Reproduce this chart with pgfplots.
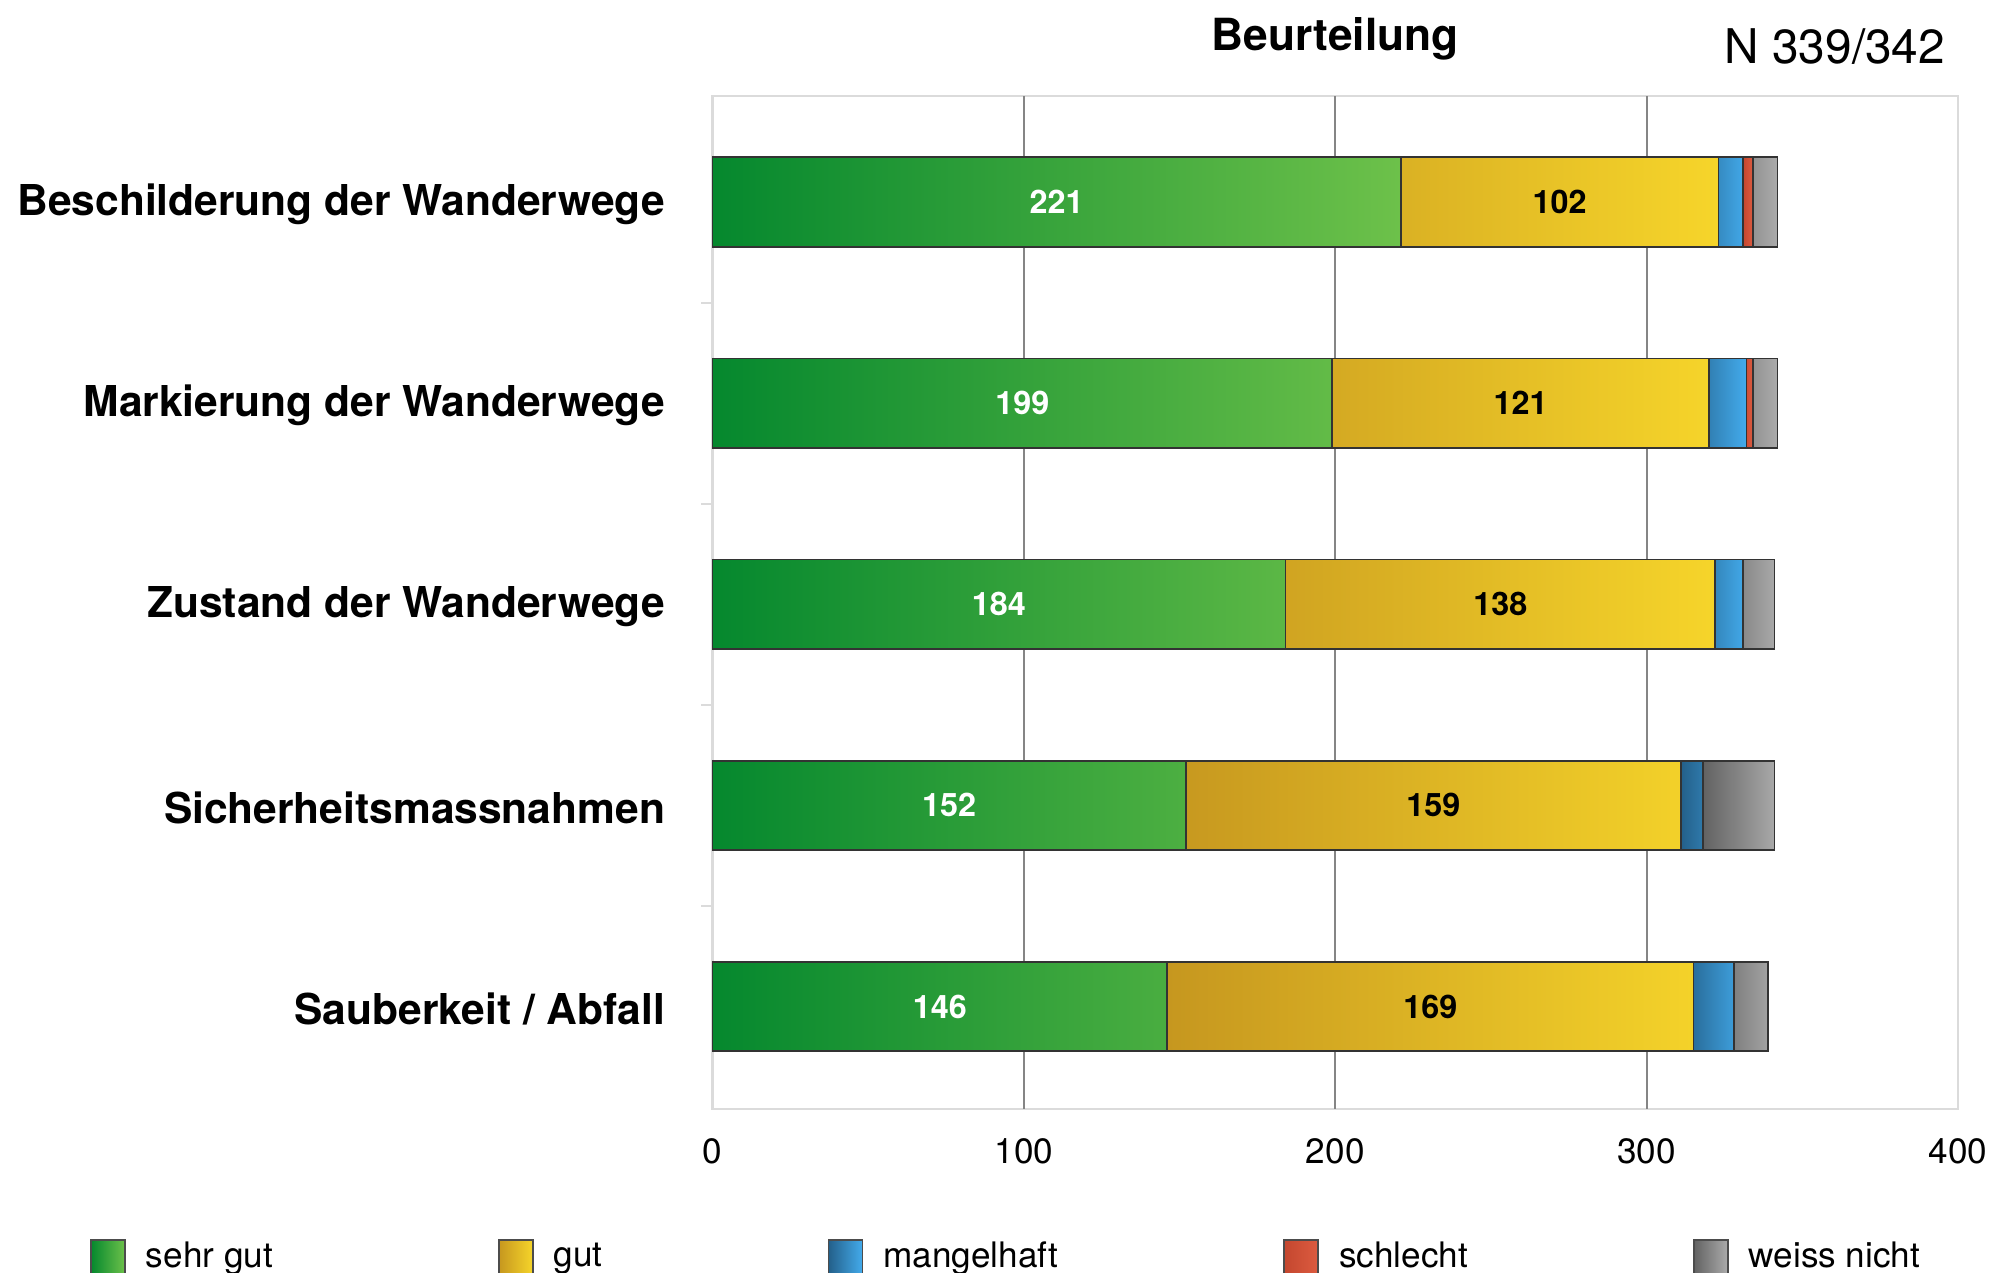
\documentclass[border=0pt]{standalone}
\usepackage{fontspec}
\setmainfont{TeX Gyre Heros}
\usepackage{pgfplots}
\usepackage{pgfplotstable}
\pgfplotsset{compat=1.18}

\definecolor{grL}{HTML}{05882E}
\definecolor{grR}{HTML}{6DC14A}
\definecolor{ylL}{HTML}{C6971F}
\definecolor{ylR}{HTML}{F6D52A}
\definecolor{blL}{HTML}{24608A}
\definecolor{blR}{HTML}{43ABEC}
\definecolor{rdL}{HTML}{C4472F}
\definecolor{rdR}{HTML}{DC5B40}
\definecolor{gyL}{HTML}{626262}
\definecolor{gyR}{HTML}{ABABAB}

% pos: 4 = top row
\pgfplotstableread{
pos g ge m s w
4 221 102 8 3 8
3 199 121 12 2 8
2 184 138 9 0 10
1 152 159 7 0 23
0 146 169 13 0 11
}\beurteilung

\pgfplotsset{
  frame/.style={scale only axis, width=124.58mm, height=101.3mm,
    xmin=0, xmax=400, ymin=-0.509, ymax=4.528},
}

\begin{document}
\begin{tikzpicture}
\useasboundingbox (-71.24mm,-16.41mm) rectangle (129.36mm,110.89mm);
\begin{axis}[
    frame,
    xbar stacked,
    bar width=8.95mm,
    xtick={0,100,...,400},
    extra x ticks={100,200,300},
    extra x tick labels={},
    extra x tick style={grid=major, major grid style={draw=black!48, line width=0.6pt}},
    ytick={0,...,4},
    yticklabels={Sauberkeit / Abfall, Sicherheitsmassnahmen, Zustand der Wanderwege, Markierung der Wanderwege, Beschilderung der Wanderwege},
    minor ytick={0.5,1.5,2.5,3.5},
    major tick length=0pt,
    minor tick length=1.1mm,
    tick align=outside,
    ytick pos=left, xtick pos=bottom,
    minor tick style={draw=black!14, line width=0.6pt},
    axis line style={draw=black!14, line width=0.7pt},
    /pgf/number format/assume math mode=true,
    xticklabel style={font=\fontsize{10}{12}\selectfont, yshift=-1.75mm},
    yticklabel style={font=\bfseries\fontsize{12.1}{14}\selectfont, xshift=-3.5mm, yshift=-0.2mm},
    every axis plot/.append style={draw=black!80, line width=0.5pt},
    legend columns=5,
    legend style={at={(-0.5,-0.1465)}, anchor=west, draw=none, fill=none,
      inner sep=0pt, font=\fontsize{10}{12}\selectfont,
      /tikz/every odd column/.append style={column sep=1.3mm},
      /tikz/every even column/.append style={column sep=21.8mm}},
    legend image code/.code={\draw[#1,draw=black!70] (0mm,-1.7mm) rectangle (3.4mm,1.7mm);},
    clip=false,
  ]
  \addplot[left color=grL, right color=grR] table[x=g, y=pos] {\beurteilung};
  \addlegendentry{sehr gut}
  \addplot[left color=ylL, right color=ylR] table[x=ge, y=pos] {\beurteilung};
  \addlegendentry{gut}
  \addplot[left color=blL, right color=blR] table[x=m, y=pos] {\beurteilung};
  \addlegendentry{mangelhaft}
  \addplot[left color=rdL, right color=rdR] table[x=s, y=pos] {\beurteilung};
  \addlegendentry{schlecht}
  \addplot[left color=gyL, right color=gyR] table[x=w, y=pos] {\beurteilung};
  \addlegendentry{weiss nicht}
  \node[anchor=center, font=\bfseries\fontsize{12.6}{15}\selectfont] at (axis description cs:0.5,1.0566) {Beurteilung};
  \node[anchor=center, font=\fontsize{13.6}{16}\selectfont] at (axis description cs:0.901,1.049) {N 339/342};
\end{axis}
% segment labels, centred in the green and yellow segments
\begin{axis}[
    frame, hide axis, clip=false,
    nodes near coords, point meta=explicit,
    /pgf/number format/assume math mode=true,
    nodes near coords style={anchor=center, font=\bfseries\fontsize{9.2}{11}\selectfont},
  ]
  \addplot[only marks, mark=none, nodes near coords style={text=white}]
    table[x expr=\thisrow{g}/2, y=pos, meta=g] {\beurteilung};
  \addplot[only marks, mark=none, nodes near coords style={text=black}]
    table[x expr=\thisrow{g}+\thisrow{ge}/2, y=pos, meta=ge] {\beurteilung};
\end{axis}
\end{tikzpicture}
\end{document}
